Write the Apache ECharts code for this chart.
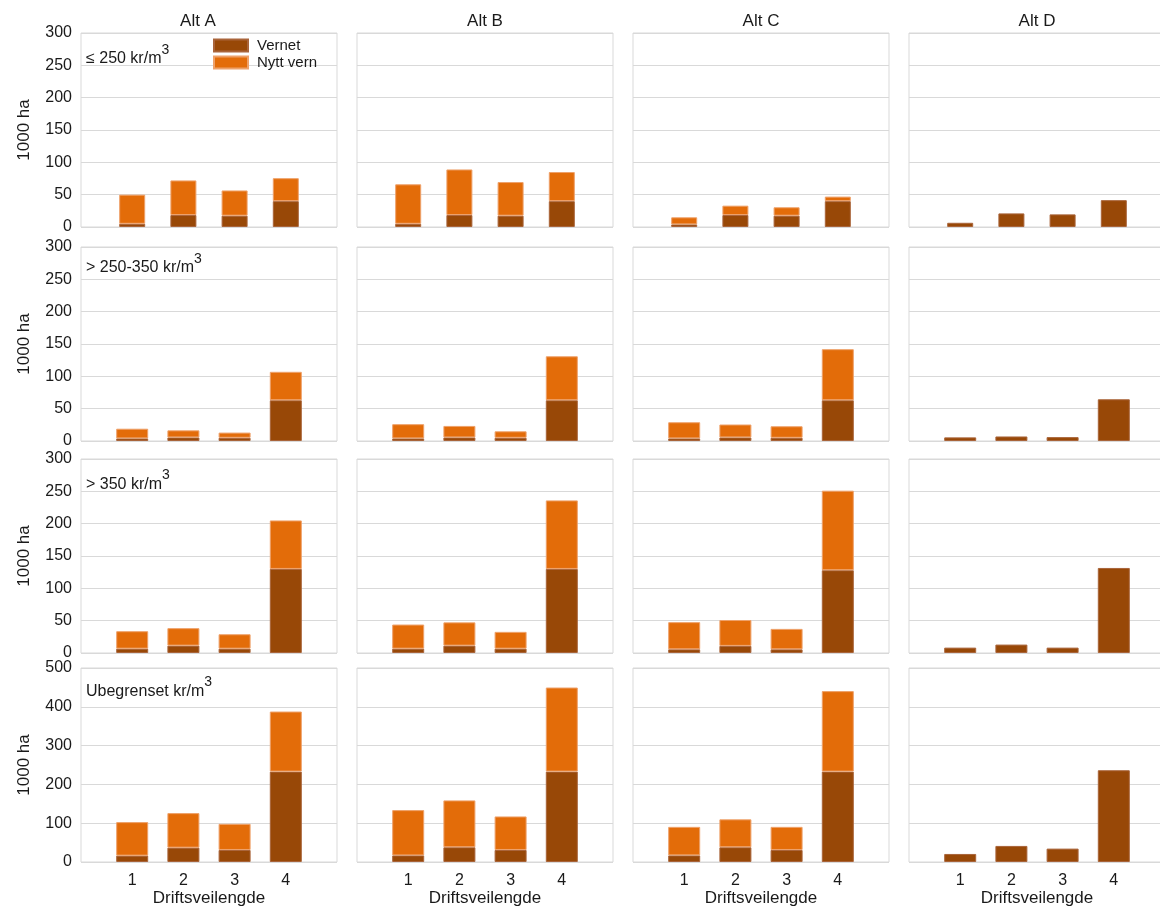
<!DOCTYPE html>
<html>
<head>
<meta charset="utf-8">
<script src="https://cdn.jsdelivr.net/npm/echarts@6/dist/echarts.min.js"></script>
<style>
  html, body { margin: 0; padding: 0; background: #fff; }
  #chart { width: 1160px; height: 908px; }
</style>
</head>
<body>
<div id="chart"></div>
<script>
const alts = ['Alt A', 'Alt B', 'Alt C', 'Alt D'];
const priceClasses = ['≤ 250 kr/m', '> 250-350 kr/m', '> 350 kr/m', 'Ubegrenset kr/m'];
const categories = ['1', '2', '3', '4'];
const yMax = [300, 300, 300, 500];
const yStep = [50, 50, 50, 100];

// Vernet, per price class: one array per Alt (A, B, C, D)
const vernet1 = [[5, 18.5, 17.5, 40], [5, 18.5, 17.5, 40], [4, 18.5, 17.5, 40], [6.5, 21, 19.5, 41.5]];
const vernet2 = [[4, 5.5, 5, 63], [4, 5.5, 5, 63], [4, 5.5, 5, 63], [5.6, 7, 6, 64.5]];
const vernet3 = [[6.7, 11.4, 6.7, 130], [6.7, 11.4, 6.7, 130], [5.7, 11, 5.7, 128], [8.3, 13, 8.3, 131.5]];
const vernet4 = [[16.4, 37, 31, 233], [17, 38, 31, 233], [17, 38, 31, 233], [20.7, 41.4, 34.5, 236.5]];

// Nytt vern, stacked on top
const nytt1 = [[45, 53.5, 39, 35.5], [61, 70.5, 52, 45], [11, 14.5, 13, 7], [0, 0, 0, 0]];
const nytt2 = [[15, 11, 8, 44], [22, 17.8, 10, 68], [25, 20, 17.8, 79], [0, 0, 0, 0]];
const nytt3 = [[27, 27, 22.3, 75], [37.3, 36, 26, 106], [42, 40, 31.6, 123], [0, 0, 0, 0]];
const nytt4 = [[86.4, 89, 67.4, 154.8], [116.7, 120.8, 86.4, 216.7], [73.6, 72, 59.6, 207.4], [0, 0, 0, 0]];

const vernet = [vernet1, vernet2, vernet3, vernet4];
const nytt = [nytt1, nytt2, nytt3, nytt4];

const font = 'Liberation Sans, Arial, sans-serif';
const ink = '#1a1a1a';
const gridColor = '#d9d9d9';
const rowTop = [33, 247, 459, 668];
const rowLabelY = [55, 264, 480.5, 687.5];
const barW = [26, 32, 32, 32];
const titleX = [198, 485, 761, 1037];

const grids = [], xAxes = [], yAxes = [], series = [], graphics = [];
const axisData = [''].concat(categories, [' ']);
// empty slots at both ends; zero values drawn as nothing
const pad = (arr) => [null].concat(arr.map(v => (v ? v : null)), [null]);

for (let r = 0; r < 4; r++) {
  for (let c = 0; c < 4; c++) {
    const i = r * 4 + c;
    grids.push({
      left: 81 + 276 * c, top: rowTop[r], width: 256, height: 194,
      outerBoundsMode: 'none', containLabel: false,
      show: true, borderColor: gridColor, borderWidth: 1, backgroundColor: 'transparent'
    });
    xAxes.push({
      gridIndex: i, type: 'category', data: axisData, boundaryGap: false,
      axisLine: { show: false }, axisTick: { show: false }, splitLine: { show: false },
      axisLabel: { show: r === 3, interval: 0, fontSize: 16, color: ink, margin: 11, fontFamily: font },
      name: r === 3 ? 'Driftsveilengde' : '', nameLocation: 'middle', nameGap: 28,
      nameTextStyle: { fontSize: 17, color: ink, fontFamily: font }
    });
    yAxes.push({
      gridIndex: i, type: 'value', min: 0, max: yMax[r], interval: yStep[r],
      axisLine: { show: false }, axisTick: { show: false },
      splitLine: { lineStyle: { color: gridColor, width: 1 } },
      axisLabel: { show: c === 0, fontSize: 16, color: ink, margin: 9, fontFamily: font },
      name: c === 0 ? '1000 ha' : '', nameLocation: 'middle', nameRotate: 90, nameGap: 48,
      nameTextStyle: { fontSize: 17, color: ink, fontFamily: font }
    });
    series.push({
      name: 'Vernet', type: 'bar', stack: 's' + i, xAxisIndex: i, yAxisIndex: i,
      barWidth: barW[r], data: pad(vernet[r][c]),
      itemStyle: { color: '#984807', borderColor: '#a9643a', borderWidth: 1 }
    });
    series.push({
      name: 'Nytt vern', type: 'bar', stack: 's' + i, xAxisIndex: i, yAxisIndex: i,
      barWidth: barW[r], data: pad(nytt[r][c]),
      itemStyle: { color: '#e36c09', borderColor: '#eea16a', borderWidth: 1 }
    });
  }
  graphics.push({
    type: 'text', left: 86, top: rowLabelY[r] - 12,
    style: {
      text: '{m|' + priceClasses[r] + '}{s|3}',
      fontFamily: font,
      rich: {
        m: { fontSize: 16, lineHeight: 24, verticalAlign: 'bottom', fill: ink, fontFamily: font },
        s: { fontSize: 14, lineHeight: 14, verticalAlign: 'top', fill: ink, fontFamily: font }
      }
    }
  });
}

alts.forEach((a, c) => {
  graphics.push({
    type: 'text', x: titleX[c], y: 21,
    style: { text: a, fontSize: 17, fontFamily: font, fill: ink, align: 'center', verticalAlign: 'middle' }
  });
});

const chart = echarts.init(document.getElementById('chart'));
chart.setOption({
  animation: false,
  backgroundColor: '#fff',
  grid: grids,
  xAxis: xAxes,
  yAxis: yAxes,
  series: series,
  graphic: graphics,
  legend: {
    data: ['Vernet', 'Nytt vern'], orient: 'vertical', left: 213, top: 38, padding: 0,
    itemWidth: 34, itemHeight: 12, itemGap: 2, icon: 'rect',
    textStyle: { fontSize: 15, color: ink, fontFamily: font, padding: [0, 0, 0, 4] }
  }
});
</script>
</body>
</html>
